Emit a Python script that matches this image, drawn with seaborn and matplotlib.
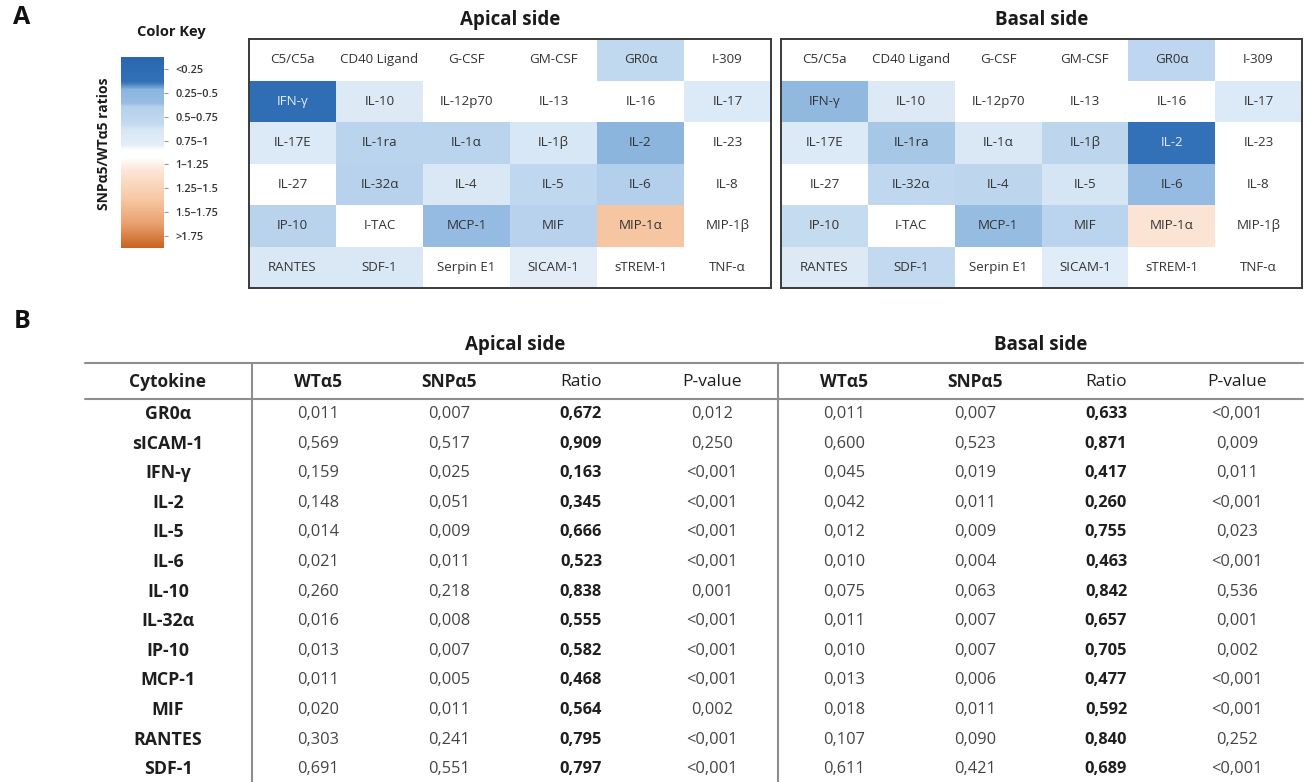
import numpy as np
import pandas as pd
import matplotlib
matplotlib.use("Agg")
import matplotlib.pyplot as plt
import seaborn as sns
from matplotlib.colors import LinearSegmentedColormap

# ---------------------------------------------------------------- data
grid_labels = [
    ["C5/C5a", "CD40 Ligand", "G-CSF", "GM-CSF", "GR0α", "I-309"],
    ["IFN-γ", "IL-10", "IL-12p70", "IL-13", "IL-16", "IL-17"],
    ["IL-17E", "IL-1ra", "IL-1α", "IL-1β", "IL-2", "IL-23"],
    ["IL-27", "IL-32α", "IL-4", "IL-5", "IL-6", "IL-8"],
    ["IP-10", "I-TAC", "MCP-1", "MIF", "MIP-1α", "MIP-1β"],
    ["RANTES", "SDF-1", "Serpin E1", "SICAM-1", "sTREM-1", "TNF-α"],
]

cytokines = ["GR0α", "sICAM-1", "IFN-γ", "IL-2", "IL-5", "IL-6", "IL-10",
             "IL-32α", "IP-10", "MCP-1", "MIF", "RANTES", "SDF-1"]
grid_name = {"sICAM-1": "SICAM-1"}

apical_wt = [0.011, 0.569, 0.159, 0.148, 0.014, 0.021, 0.260, 0.016, 0.013, 0.011, 0.020, 0.303, 0.691]
apical_snp = [0.007, 0.517, 0.025, 0.051, 0.009, 0.011, 0.218, 0.008, 0.007, 0.005, 0.011, 0.241, 0.551]
apical_ratio = [0.672, 0.909, 0.163, 0.345, 0.666, 0.523, 0.838, 0.555, 0.582, 0.468, 0.564, 0.795, 0.797]
apical_p = ["0,012", "0,250", "<0,001", "<0,001", "<0,001", "<0,001", "0,001",
            "<0,001", "<0,001", "<0,001", "0,002", "<0,001", "<0,001"]

basal_wt = [0.011, 0.600, 0.045, 0.042, 0.012, 0.010, 0.075, 0.011, 0.010, 0.013, 0.018, 0.107, 0.611]
basal_snp = [0.007, 0.523, 0.019, 0.011, 0.009, 0.004, 0.063, 0.007, 0.007, 0.006, 0.011, 0.090, 0.421]
basal_ratio = [0.633, 0.871, 0.417, 0.260, 0.755, 0.463, 0.842, 0.657, 0.705, 0.477, 0.592, 0.840, 0.689]
basal_p = ["<0,001", "0,009", "0,011", "<0,001", "0,023", "<0,001", "0,536",
           "0,001", "0,002", "<0,001", "<0,001", "0,252", "<0,001"]

# ratios of array spots not listed in the table (estimated); all others ~1
apical_other = {"IL-17": 0.82, "IL-17E": 0.82, "IL-1ra": 0.60, "IL-1α": 0.60,
                "IL-1β": 0.78, "IL-4": 0.80, "MIP-1α": 1.50}
basal_other = {"IL-17": 0.82, "IL-17E": 0.82, "IL-1ra": 0.50, "IL-1α": 0.80,
               "IL-1β": 0.62, "IL-4": 0.62, "MIP-1α": 1.20}
unchanged_ratio = 1.0

key_labels = ["<0.25", "0.25–0.5", "0.5–0.75", "0.75–1",
              "1–1.25", "1.25–1.5", "1.5–1.75", ">1.75"]
key_ticks = [0.125, 0.375, 0.625, 0.875, 1.125, 1.375, 1.625, 1.875]


def ratio_grid(ratios, other):
    lookup = {grid_name.get(c, c): r for c, r in zip(cytokines, ratios)}
    lookup.update(other)
    vals = [[lookup.get(lbl, unchanged_ratio) for lbl in row] for row in grid_labels]
    return pd.DataFrame(vals)


# ---------------------------------------------------------------- style
sns.set_theme(style="white")
plt.rcParams["font.family"] = ["Open Sans", "DejaVu Sans"]

anchors = [(0.00, "#2A66AF"), (0.26, "#3271B8"), (0.34, "#8CB5DE"), (0.48, "#96BCE2"),
           (0.52, "#B5D0EC"), (0.70, "#C3DAF0"), (0.76, "#D7E6F5"), (0.92, "#E4EEF8"),
           (0.97, "#FFFFFF"), (1.05, "#FFFFFF"), (1.20, "#FCE4D4"), (1.50, "#F6C6A2"),
           (1.75, "#E9A06E"), (2.00, "#C8631F")]
cmap = LinearSegmentedColormap.from_list("ratio", [(v / 2.0, c) for v, c in anchors])

W, H = 1307, 782
fig = plt.figure(figsize=(W / 100, H / 100), dpi=100)


def rect(x0, y0, x1, y1):
    return [x0 / W, 1 - y1 / H, (x1 - x0) / W, (y1 - y0) / H]


# ---------------------------------------------------------------- panel A
cax = fig.add_axes(rect(121, 57, 164, 248))
panels = [("Apical side", apical_ratio, apical_other, (249, 39, 771, 288), True),
          ("Basal side", basal_ratio, basal_other, (781, 39, 1302, 288), False)]

cb = None
for title, ratios, other, box, with_key in panels:
    ax = fig.add_axes(rect(*box))
    sns.heatmap(ratio_grid(ratios, other), ax=ax, cmap=cmap, vmin=0, vmax=2,
                annot=np.array(grid_labels), fmt="", annot_kws={"fontsize": 9.6},
                cbar=with_key, cbar_ax=cax if with_key else None,
                xticklabels=False, yticklabels=False, linewidths=0)
    if with_key:
        cb = ax.collections[0].colorbar
    for t in ax.texts:
        t.set_color("#E6EEF8" if t.get_color() in ("w", "white") else "#333333")
    for s in ax.spines.values():
        s.set_visible(True)
        s.set_color("#3A3A3A")
        s.set_linewidth(1.4)
    cx = (box[0] + box[2]) / 2
    fig.text(cx / W, 1 - 20 / H, title, ha="center", va="center",
             fontsize=13.5, fontweight="bold", color="#1A1A1A")

cb.set_ticks(key_ticks)
cb.set_ticklabels(key_labels)
cb.outline.set_visible(False)
cax.invert_yaxis()
cax.tick_params(axis="y", length=3, width=0.8, color="#999999", pad=5,
                labelsize=7.8, labelcolor="#333333")
for lbl in cax.get_yticklabels():
    lbl.set_fontweight("semibold")

fig.text(22 / W, 1 - 18 / H, "A", ha="center", va="center",
         fontsize=18, fontweight="bold", color="#111111")
fig.text(171 / W, 1 - 32 / H, "Color Key", ha="center", va="center",
         fontsize=10.5, fontweight="bold", color="#1A1A1A")
fig.text(104 / W, 1 - 144 / H, "SNPα5/WTα5 ratios", ha="center", va="center",
         rotation=90, fontsize=10, fontweight="bold", color="#1A1A1A")

# ---------------------------------------------------------------- panel B
tab = fig.add_axes([0, 0, 1, 1])
tab.set_xlim(0, W)
tab.set_ylim(H, 0)
tab.axis("off")

tab.text(22, 322, "B", ha="center", va="center", fontsize=18,
         fontweight="bold", color="#111111")

line_kw = dict(color="#8E8E8E", lw=1.5)
tab.plot([85, 1303], [363, 363], **line_kw)
tab.plot([85, 1303], [399, 399], **line_kw)
tab.plot([252, 252], [363, H], **line_kw)
tab.plot([778, 778], [363, H], **line_kw)

cyto_x = 168
group_cols = {"Apical side": [318, 449, 581, 712], "Basal side": [844, 975, 1106, 1237]}
group_data = {"Apical side": (apical_wt, apical_snp, apical_ratio, apical_p),
              "Basal side": (basal_wt, basal_snp, basal_ratio, basal_p)}

header_y = 382
row_y0, row_dy = 414, 29.6
body_size = 11.8
name_size = 12.8

tab.text(cyto_x, header_y, "Cytokine", ha="center", va="center",
         fontsize=12.5, fontweight="bold", color="#1E1E1E")


def fmt(v):
    return f"{v:.3f}".replace(".", ",")


for group, cols in group_cols.items():
    tab.text((cols[0] + cols[-1]) / 2, 345, group, ha="center", va="center",
             fontsize=13.5, fontweight="bold", color="#1A1A1A")
    heads = [("WTα5", "bold"), ("SNPα5", "bold"), ("Ratio", "normal"), ("P-value", "normal")]
    for x, (h, w) in zip(cols, heads):
        tab.text(x, header_y, h, ha="center", va="center", fontsize=12.5,
                 fontweight=w, color="#1E1E1E")
    wt, snp, ratio, pval = group_data[group]
    for i in range(len(cytokines)):
        y = row_y0 + i * row_dy
        tab.text(cols[0], y, fmt(wt[i]), ha="center", va="center", fontsize=body_size, color="#444444")
        tab.text(cols[1], y, fmt(snp[i]), ha="center", va="center", fontsize=body_size, color="#444444")
        tab.text(cols[2], y, fmt(ratio[i]), ha="center", va="center", fontsize=body_size,
                 fontweight="bold", color="#1E1E1E")
        tab.text(cols[3], y, pval[i], ha="center", va="center", fontsize=body_size, color="#444444")

for i, c in enumerate(cytokines):
    tab.text(cyto_x, row_y0 + i * row_dy, c, ha="center", va="center",
             fontsize=name_size, fontweight="bold", color="#1E1E1E")

fig.savefig("out.png", dpi=100, facecolor="white")
